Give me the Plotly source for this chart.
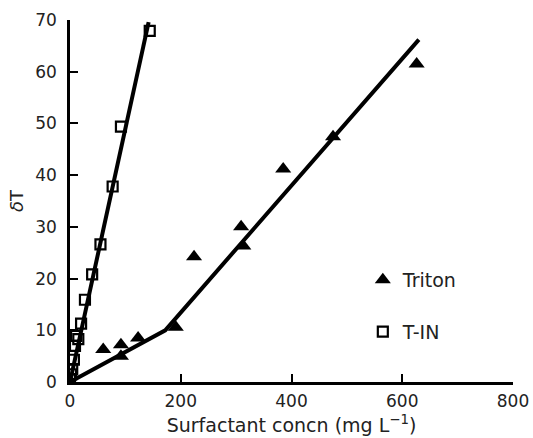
import plotly.graph_objects as go

# Data
triton_x = [0, 60, 92, 92, 123, 191, 224, 309, 313, 385, 475, 626]
triton_y = [0, 6.3, 7.2, 5.0, 8.5, 10.6, 24.2, 30.0, 26.3, 41.2, 47.4, 61.5]
tin_x = [0, 2, 4, 7, 9, 11, 15, 20, 27, 40, 55, 77, 92, 144]
tin_y = [0.5, 1.5, 2.5, 4.3, 7.0, 8.9, 8.3, 11.3, 15.9, 20.8, 26.6, 37.8, 49.4, 67.9]
triton_fit_x = [0, 172, 630]
triton_fit_y = [0, 10.0, 66.2]
tin_fit_x = [0, 142]
tin_fit_y = [0, 69.6]

x_ticks = [0, 200, 400, 600, 800]
y_ticks = [0, 10, 20, 30, 40, 50, 60, 70]

FONT = "DejaVu Sans"
TXT = "#222222"

fig = go.Figure()
fig.add_trace(go.Scatter(x=triton_fit_x, y=triton_fit_y, mode="lines",
                         line=dict(color="black", width=4), showlegend=False,
                         hoverinfo="skip"))
fig.add_trace(go.Scatter(x=tin_fit_x, y=tin_fit_y, mode="lines",
                         line=dict(color="black", width=4), showlegend=False,
                         hoverinfo="skip"))
fig.add_trace(go.Scatter(x=triton_x, y=triton_y, mode="markers", name="Triton",
                         legendgroup="a",
                         marker=dict(symbol="triangle-up", size=14, color="black",
                                     line=dict(width=0))))
fig.add_trace(go.Scatter(x=tin_x, y=tin_y, mode="markers", name="T-IN",
                         legendgroup="b",
                         marker=dict(symbol="square-open", size=10, color="black",
                                     line=dict(width=2.2))))

axis_common = dict(
    showline=True, linecolor="black", linewidth=2.5,
    ticks="inside", ticklen=8, tickwidth=2, tickcolor="black",
    showgrid=False, zeroline=False,
    tickfont=dict(family=FONT, size=17, color=TXT),
)

fig.update_layout(
    width=533, height=438,
    margin=dict(l=70, r=20, t=20, b=56),
    plot_bgcolor="white", paper_bgcolor="white",
    font=dict(family=FONT, color=TXT),
    xaxis=dict(range=[0, 800], tickvals=x_ticks, ticktext=[str(v) for v in x_ticks],
               title=dict(text="Surfactant concn (mg L<sup>−1</sup>)",
                          font=dict(family=FONT, size=19, color=TXT), standoff=9),
               ticklabelstandoff=2,
               **axis_common),
    yaxis=dict(range=[0, 70], tickvals=y_ticks, ticktext=[str(v) for v in y_ticks],
               title=dict(text="<i>δ</i>T", font=dict(family=FONT, size=18, color=TXT),
                          standoff=7),
               ticklabelstandoff=7,
               **axis_common),
    legend=dict(x=0.661, y=0.21, xanchor="left", yanchor="middle",
                bgcolor="rgba(0,0,0,0)", tracegroupgap=24,
                font=dict(family=FONT, size=19, color=TXT),
                itemwidth=30),
)
fig.update_xaxes(automargin=False)
fig.update_yaxes(automargin=False)

fig.write_html("out.html")
